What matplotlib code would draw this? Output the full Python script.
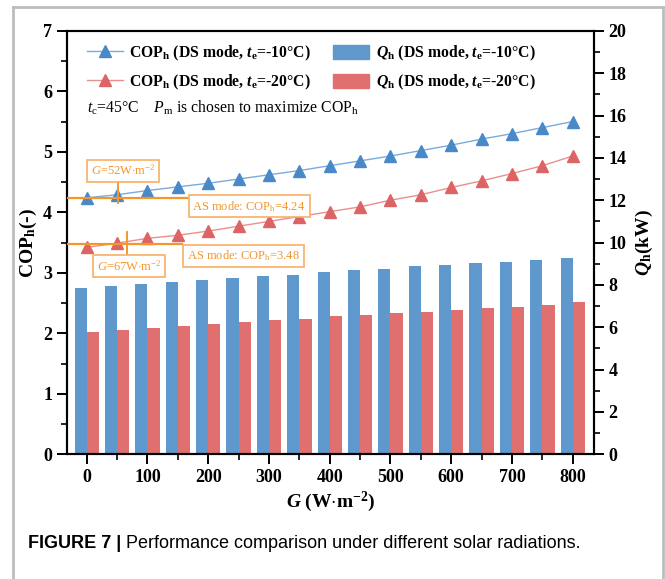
import matplotlib
matplotlib.use("Agg")
import matplotlib.pyplot as plt
from matplotlib.lines import Line2D
from matplotlib.patches import Patch
from matplotlib.ticker import MultipleLocator

# solar radiation G (W/m2)
radiation = [0, 50, 100, 150, 200, 250, 300, 350, 400, 450, 500, 550, 600, 650, 700, 750, 800]

# heating COP, DS mode
cop_m10 = [4.24, 4.29, 4.36, 4.42, 4.48, 4.55, 4.62, 4.69, 4.77, 4.85, 4.93, 5.02, 5.11, 5.21, 5.30, 5.40, 5.50]
cop_m20 = [3.42, 3.49, 3.57, 3.62, 3.69, 3.77, 3.85, 3.93, 4.01, 4.09, 4.20, 4.29, 4.41, 4.52, 4.64, 4.77, 4.93]

# heating capacity Qh (kW), DS mode
q_m10 = [7.83, 7.93, 8.03, 8.14, 8.23, 8.32, 8.42, 8.49, 8.60, 8.70, 8.77, 8.87, 8.93, 9.04, 9.10, 9.18, 9.25]
q_m20 = [5.79, 5.89, 5.98, 6.07, 6.17, 6.26, 6.34, 6.41, 6.51, 6.58, 6.66, 6.74, 6.82, 6.91, 6.97, 7.07, 7.19]

# AS mode reference points
as_cop = [4.24, 3.48]
as_g = [52, 67]

plt.rcParams["font.family"] = "Liberation Serif"
plt.rcParams["mathtext.fontset"] = "custom"
plt.rcParams["mathtext.rm"] = "Liberation Serif"
plt.rcParams["mathtext.it"] = "Liberation Serif:italic"
plt.rcParams["mathtext.bf"] = "Liberation Serif:bold"
plt.rcParams["mathtext.bfit"] = "Liberation Serif:bold:italic"

BLUE_BAR = "#5F98CC"
RED_BAR = "#E07070"
BLUE_MK = "#4A89C8"
RED_MK = "#DC6464"
BLUE_LN = "#78ACDD"
RED_LN = "#EC8E8E"
ORANGE = "#F5962A"
ORANGE_BOX = "#F7B062"

W, H = 665, 579
fig = plt.figure(figsize=(W / 100, H / 100), dpi=100)
ax = fig.add_axes([66.7 / W, 1 - 454.3 / H, (594 - 66.7) / W, (454.3 - 30.8) / H])
ax2 = ax.twinx()
ax.set_zorder(ax2.get_zorder() + 1)
ax.patch.set_visible(False)

bw = 20
ax2.bar([g - bw / 2 for g in radiation], q_m10, width=bw, color=BLUE_BAR, linewidth=0)
ax2.bar([g + bw / 2 for g in radiation], q_m20, width=bw, color=RED_BAR, linewidth=0)

ax.plot(radiation, cop_m10, color=BLUE_LN, lw=1.0, marker="^", ms=8.5,
        mfc=BLUE_MK, mec=BLUE_MK)
ax.plot(radiation, cop_m20, color=RED_LN, lw=1.0, marker="^", ms=8.5,
        mfc=RED_MK, mec=RED_MK)

xmin, xmax = -33, 835
ax.set_xlim(xmin, xmax)
ax.set_ylim(0, 7)
ax2.set_ylim(0, 20)

# AS mode guide lines and boxes
line_end = [165, 156]
for cop, end in zip(as_cop, line_end):
    ax.plot([xmin, end], [cop, cop], color=ORANGE, lw=1.6, zorder=5)
ax.plot([as_g[0], as_g[0]], [4.15, 4.51], color=ORANGE, lw=1.4, zorder=5)
ax.plot([as_g[1], as_g[1]], [3.31, 3.68], color=ORANGE, lw=1.4, zorder=5)

box = dict(boxstyle="square,pad=0.3", fc="white", ec=ORANGE_BOX, lw=1.2)
ax.text(59.5, 4.69, r"$\mathit{G}$=52W$\cdot$m$^{-2}$", color=ORANGE, fontsize=9,
        ha="center", va="center", bbox=box, zorder=6)
ax.text(69.5, 3.105, r"$\mathit{G}$=67W$\cdot$m$^{-2}$", color=ORANGE, fontsize=9,
        ha="center", va="center", bbox=box, zorder=6)
ax.text(174, 4.10, r"AS mode: COP$_\mathrm{h}$=4.24", color=ORANGE, fontsize=9,
        ha="left", va="center", bbox=box, zorder=6)
ax.text(165, 3.28, r"AS mode: COP$_\mathrm{h}$=3.48", color=ORANGE, fontsize=9,
        ha="left", va="center", bbox=box, zorder=6)

ax.text(0, 5.72, r"$\mathit{t}_\mathrm{c}$=45°C    $\mathit{P}_\mathrm{m}$ is chosen to maximize COP$_\mathrm{h}$",
        fontsize=11.3, ha="left", va="center")

# axes styling
for a in (ax, ax2):
    for s in a.spines.values():
        s.set_linewidth(1.5)
ax.tick_params(axis="both", which="major", direction="out", length=7, width=1.4,
               labelsize=13, top=False)
ax.tick_params(axis="both", which="minor", direction="out", length=4, width=1.2, top=False)
ax2.tick_params(axis="y", which="major", direction="out", length=7, width=1.4, labelsize=13)
ax2.tick_params(axis="y", which="minor", direction="out", length=4, width=1.2)
ax.xaxis.set_major_locator(MultipleLocator(100))
ax.xaxis.set_minor_locator(MultipleLocator(50))
ax.yaxis.set_major_locator(MultipleLocator(1))
ax.yaxis.set_minor_locator(MultipleLocator(0.5))
ax2.yaxis.set_major_locator(MultipleLocator(2))
ax2.yaxis.set_minor_locator(MultipleLocator(1))
for lab in ax.get_xticklabels() + ax.get_yticklabels() + ax2.get_yticklabels():
    lab.set_fontweight("bold")

ax.set_xlabel(r"$\mathbfit{G}$ (W$\cdot$m$^{\mathbf{-2}}$)", fontsize=14, fontweight="bold", labelpad=3)
ax.set_ylabel(r"$\mathbf{COP}_\mathbf{h}$(-)", fontsize=14, fontweight="bold", labelpad=3)
ax2.set_ylabel(r"$\mathbfit{Q}_\mathbf{h}$(kW)", fontsize=14, fontweight="bold", labelpad=5)

handles = [
    Line2D([], [], color=BLUE_LN, lw=1.0, marker="^", ms=8.5, mfc=BLUE_MK, mec=BLUE_MK),
    Line2D([], [], color=RED_LN, lw=1.0, marker="^", ms=8.5, mfc=RED_MK, mec=RED_MK),
    Patch(color=BLUE_BAR),
    Patch(color=RED_BAR),
]
labels = [
    r"$\mathbf{COP}_\mathbf{h}$ (DS mode, $\mathbfit{t}_\mathbf{e}$=-10°C)",
    r"$\mathbf{COP}_\mathbf{h}$ (DS mode, $\mathbfit{t}_\mathbf{e}$=-20°C)",
    r"$\mathbfit{Q}_\mathbf{h}$ (DS mode, $\mathbfit{t}_\mathbf{e}$=-10°C)",
    r"$\mathbfit{Q}_\mathbf{h}$ (DS mode, $\mathbfit{t}_\mathbf{e}$=-20°C)",
]
ax.legend(handles, labels, ncol=2, loc="upper left", frameon=False,
          bbox_to_anchor=(87 / W, 1 - 44 / H), bbox_transform=fig.transFigure,
          borderpad=0, borderaxespad=0, handlelength=2.3, handleheight=1.0,
          handletextpad=0.4, labelspacing=0.6, columnspacing=1.4,
          prop={"family": "Liberation Serif", "weight": "bold", "size": 11.3})

# page frame and caption
frame = dict(color="#BDBDBD", lw=2.0, transform=fig.transFigure)
fig.add_artist(Line2D([13 / W, 13 / W], [0, 1 - 7 / H], **frame))
fig.add_artist(Line2D([13 / W, 663 / W], [1 - 7 / H, 1 - 7 / H], **frame))
fig.add_artist(Line2D([663 / W, 663 / W], [0, 1 - 7 / H], **frame))

cap_y = 1 - 543 / H
t1 = fig.text(28 / W, cap_y, "FIGURE 7 |", family="Liberation Sans", weight="bold",
              fontsize=13, va="center", ha="left")
fig.canvas.draw()
bb = t1.get_window_extent()
fig.text(bb.x1 / W + 5 / W, cap_y, "Performance comparison under different solar radiations.",
         family="Liberation Sans", fontsize=13, va="center", ha="left")

fig.savefig("out.png", dpi=100)
